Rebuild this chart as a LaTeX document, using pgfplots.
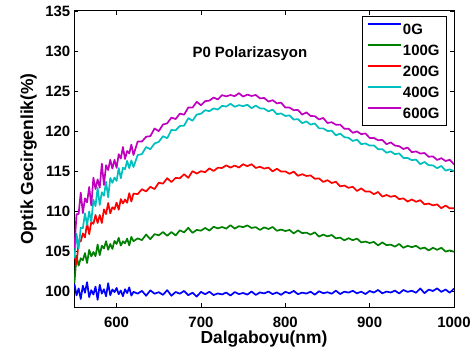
\documentclass[border=0pt]{standalone}
\usepackage{fontspec}
\setmainfont{Liberation Sans}
\usepackage{pgfplots}
\usepackage{pgfplotstable}
\pgfplotsset{compat=1.18}
\definecolor{mblue}{rgb}{0,0,1}
\definecolor{mgreen}{rgb}{0,0.5,0}
\definecolor{mred}{rgb}{1,0,0}
\definecolor{mcyan}{rgb}{0,0.75,0.75}
\definecolor{mmag}{rgb}{0.75,0,0.75}
\pgfplotstableread{
x b g r c m
550 100.88 101.0 104.5 104.1 105.38
552.5 99.45 104.4 103.3 107.15 109.58
555 100.33 103.17 106.2 105.3 109.64
557.5 99.01 104.09 106.2 107.9 112.3
560 100.66 103.84 107.2 107.85 109.74
562.5 99.78 104.75 106.7 109.7 111.58
565 101.1 103.5 108.5 108.25 111.08
567.5 99.23 105.13 107.1 109.95 113.0
570 100.11 104.33 108.6 108.65 110.7
572.5 99.56 104.88 108.4 111.4 114.16
575 100.55 104.36 109.5 110.6 112.76
577.5 98.9 105.81 108.5 112.9 113.96
580 100.77 104.48 109.5 110.75 112.92
582.5 99.67 105.66 108.5 112.35 115.92
585 100.22 105.31 110.2 111.9 113.26
587.5 99.34 106.22 109.6 113.65 115.72
590 100.97 105.15 111.0 111.7 115.12
592.5 99.47 105.88 109.71 114.13 116.4
595 100.19 105.26 110.47 113.53 115.3
597.5 99.86 106.26 110.22 114.18 116.4
600 100.38 105.88 111.05 113.76 115.4
602.5 99.6 106.65 110.15 115.36 117.1
605 100.06 105.68 111.49 114.08 116.55
607.5 99.34 106.21 110.94 115.41 118.0
610 100.22 105.96 111.44 115.21 116.5
612.5 99.74 106.55 111.03 116.27 117.5
615 100.45 105.7 112.23 115.35 117.2
617.5 99.42 106.77 111.19 116.32 118.3
620 99.9 106.22 112.18 115.49 117.0
625 99.67 106.58 112.11 116.99 118.68
630 100.02 106.36 112.72 117.12 118.68
635 99.41 107.06 112.45 118.0 119.28
640 100.08 106.48 113.02 117.72 119.36
645 99.66 107.11 112.74 118.44 120.31
650 99.85 106.96 113.54 118.64 119.98
655 99.52 107.37 113.42 119.35 120.81
660 100.11 106.9 114.1 119.1 120.96
665 99.41 107.37 113.62 120.13 121.67
670 99.88 106.94 114.14 120.08 121.5
675 99.66 107.59 114.09 120.63 122.17
680 100.01 107.32 114.6 120.66 122.04
685 99.48 107.9 114.15 121.61 122.94
690 99.79 107.27 114.98 121.28 122.92
695 99.3 107.64 114.68 122.06 123.65
700 99.89 107.54 114.98 122.16 123.22
705 99.6 107.88 114.85 122.6 123.73
710 99.91 107.55 115.33 122.48 123.8
715 99.49 108.03 115.0 122.83 124.18
720 99.7 107.83 115.4 122.68 123.95
725 99.57 108.0 115.38 123.15 124.48
730 99.81 107.8 115.7 123.05 124.33
735 99.43 108.23 115.43 123.4 124.5
740 99.87 107.8 115.68 123.03 124.35
745 99.62 108.1 115.43 123.23 124.73
750 99.75 107.98 115.85 123.1 124.3
755 99.55 108.2 115.6 123.28 124.55
760 99.94 107.88 115.85 122.85 124.38
765 99.51 107.98 115.38 123.18 124.5
770 99.82 107.63 115.53 122.83 124.08
775 99.7 107.95 115.3 122.8 124.13
780 99.93 107.75 115.43 122.45 123.68
785 99.61 108.0 114.95 122.68 123.85
790 99.82 107.53 115.28 122.1 123.45
795 99.52 107.68 114.93 122.2 123.55
800 99.9 107.5 114.95 121.88 122.93
805 99.71 107.63 114.65 121.95 122.93
810 100.01 107.2 114.93 121.43 122.6
815 99.6 107.58 114.4 121.48 122.63
820 99.8 107.23 114.6 120.98 122.05
825 99.68 107.3 114.38 121.2 122.33
830 99.91 107.05 114.45 120.8 121.88
835 99.54 107.33 114.03 120.95 121.85
840 99.97 106.8 114.08 120.33 121.45
845 99.72 107.05 113.63 120.33 121.63
850 99.85 106.83 113.85 120.0 121.0
855 99.66 107.0 113.5 120.03 121.1
860 100.04 106.58 113.65 119.45 120.78
865 99.62 106.68 113.08 119.68 120.8
870 99.92 106.33 113.18 119.23 120.28
875 99.8 106.6 112.9 119.15 120.28
880 100.03 106.35 113.03 118.75 119.78
885 99.71 106.55 112.5 118.93 119.95
890 99.92 106.08 112.83 118.35 119.6
895 99.62 106.18 112.43 118.45 119.7
900 100.0 106.0 112.45 118.18 119.13
905 99.81 106.13 112.1 118.2 119.13
910 100.13 105.7 112.38 117.73 118.85
915 99.71 106.08 111.8 117.73 118.88
920 99.93 105.73 112.0 117.28 118.35
925 99.81 105.8 111.78 117.45 118.58
930 100.05 105.55 111.9 117.1 118.18
935 99.69 105.88 111.48 117.2 118.1
940 100.13 105.4 111.58 116.63 117.75
945 99.89 105.65 111.18 116.63 117.93
950 100.03 105.48 111.45 116.35 117.35
955 99.78 105.65 111.15 116.43 117.45
960 100.32 105.28 111.35 115.85 117.18
965 99.73 105.43 110.83 116.13 117.25
970 100.17 105.08 110.93 115.73 116.78
975 100.0 105.4 110.7 115.7 116.83
980 100.33 105.15 110.83 115.35 116.38
985 99.89 105.4 110.35 115.63 116.6
990 100.19 104.93 110.68 115.05 116.25
995 99.78 105.08 110.33 115.2 116.4
1000 100.31 104.9 110.35 114.98 115.83
}\data
\begin{document}
\begin{tikzpicture}
\path[use as bounding box] (-74bp,-44bp) rectangle (402bp,307bp);
\begin{axis}[
  at={(0,0)}, anchor=south west,
  scale only axis, width=380bp, height=296bp,
  xmin=549.5, xmax=1000, ymin=98, ymax=135,
  xtick={600,700,800,900,1000},
  ytick={100,105,110,115,120,125,130,135},
  tick align=inside, xtick pos=both, ytick pos=both,
  major tick length=4bp,
  axis line style={line width=1bp},
  every tick/.style={line width=0.8bp, black},
  /pgf/number format/assume math mode=true,
  /pgf/number format/1000 sep={},
  tick label style={font=\fontsize{15}{17}\selectfont\bfseries, inner sep=0pt},
  xticklabel style={yshift=-9.5bp},
  yticklabel style={xshift=-3.5bp},
  xlabel={Dalgaboyu(nm)}, ylabel={Optik Gecirgenlik(\%)},
  label style={font=\fontsize{17.5}{20}\selectfont\bfseries, inner sep=0pt},
  xlabel style={at={(axis description cs:0.5,-0.081)}, anchor=north},
  ylabel style={at={(axis description cs:-0.0974,0.5)}, anchor=south, rotate=0},
  legend style={at={(0.9816,0.98311)}, anchor=north east, line width=1bp,
    font=\fontsize{15}{17}\selectfont\bfseries, inner xsep=5bp, inner ysep=5bp,
    nodes={inner sep=2bp, text depth=0pt, text height=11bp},
    row sep=6bp, cells={anchor=west}},
  legend image code/.code={\fill[#1, draw=none] (0bp,4bp) rectangle (33bp,6bp);},
]
\addplot[color=mblue, no marks, line width=1.7bp, line join=round] table[x=x, y=b] {\data};
\addplot[color=mgreen, no marks, line width=1.7bp, line join=round] table[x=x, y=g] {\data};
\addplot[color=mred, no marks, line width=1.7bp, line join=round] table[x=x, y=r] {\data};
\addplot[color=mcyan, no marks, line width=1.7bp, line join=round] table[x=x, y=c] {\data};
\addplot[color=mmag, no marks, line width=1.7bp, line join=round] table[x=x, y=m] {\data};
\legend{0G,100G,200G,400G,600G}
\node[anchor=base, font=\fontsize{15}{17}\selectfont\bfseries, inner sep=0pt] at (axis cs:758,129.2) {P0 Polarizasyon};
\end{axis}
\end{tikzpicture}
\end{document}
